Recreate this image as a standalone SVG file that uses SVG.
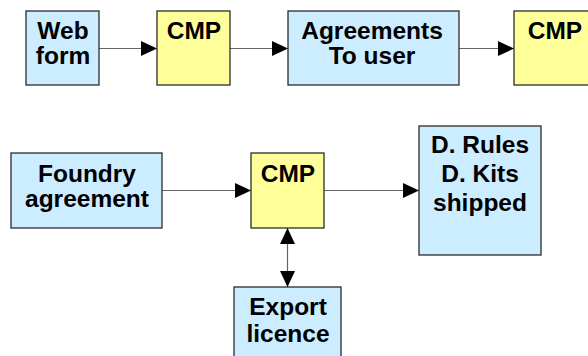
<svg xmlns="http://www.w3.org/2000/svg" width="588" height="356" viewBox="0 0 588 356">
  <defs>
    <marker id="head" viewBox="0 0 16 15" refX="16" refY="7.5" markerWidth="16" markerHeight="15" markerUnits="userSpaceOnUse" orient="auto-start-reverse">
      <path d="M0,0 L16,7.5 L0,15 Z" fill="#000"/>
    </marker>
    <style>
      .box { stroke: #2b2b2b; stroke-width: 1.3; }
      .blue { fill: #CCECFF; }
      .yellow { fill: #FFFF99; }
      .lbl { font-family: "Liberation Sans", Arial, sans-serif; font-weight: bold; font-size: 24.5px; fill: #000; text-anchor: middle; }
      .conn { stroke: #666; stroke-width: 1.2; fill: none; marker-end: url(#head); }
    </style>
  </defs>

  <rect width="588" height="356" fill="#fff"/>

  <!-- connectors -->
  <g id="connectors">
    <line class="conn" x1="99" y1="48.5" x2="157" y2="48.5"/>
    <line class="conn" x1="230" y1="48.5" x2="288" y2="48.5"/>
    <line class="conn" x1="459" y1="48.5" x2="514" y2="48.5"/>
    <line class="conn" x1="162" y1="190.5" x2="251" y2="190.5"/>
    <line class="conn" x1="324" y1="190.5" x2="419" y2="190.5"/>
    <line class="conn" x1="287.5" y1="228" x2="287.5" y2="287" style="marker-start: url(#head)"/>
  </g>

  <!-- top row -->
  <g id="web-form">
    <rect class="box blue" x="26" y="11" width="73" height="74"/>
    <text class="lbl" x="63" y="38.5">Web</text>
    <text class="lbl" x="63" y="64">form</text>
  </g>
  <g id="cmp-1">
    <rect class="box yellow" x="157" y="11" width="73" height="74"/>
    <text class="lbl" x="194" y="38.5">CMP</text>
  </g>
  <g id="agreements">
    <rect class="box blue" x="288" y="11" width="171" height="74"/>
    <text class="lbl" x="372" y="38.5">Agreements</text>
    <text class="lbl" x="372" y="64">To user</text>
  </g>
  <g id="cmp-2">
    <rect class="box yellow" x="514" y="11" width="84" height="74"/>
    <text class="lbl" x="555" y="38.5">CMP</text>
  </g>

  <!-- lower group -->
  <g id="foundry">
    <rect class="box blue" x="11" y="153" width="151" height="75"/>
    <text class="lbl" x="87" y="181.5">Foundry</text>
    <text class="lbl" x="87" y="207">agreement</text>
  </g>
  <g id="cmp-3">
    <rect class="box yellow" x="251" y="153" width="73" height="75"/>
    <text class="lbl" x="288" y="181.5">CMP</text>
  </g>
  <g id="design-kits">
    <rect class="box blue" x="419" y="126" width="122" height="129"/>
    <text class="lbl" x="480" y="153">D. Rules</text>
    <text class="lbl" x="480" y="182">D. Kits</text>
    <text class="lbl" x="480" y="211">shipped</text>
  </g>
  <g id="export-licence">
    <rect class="box blue" x="234" y="287" width="107" height="80"/>
    <text class="lbl" x="288" y="315">Export</text>
    <text class="lbl" x="288" y="342">licence</text>
  </g>
</svg>
